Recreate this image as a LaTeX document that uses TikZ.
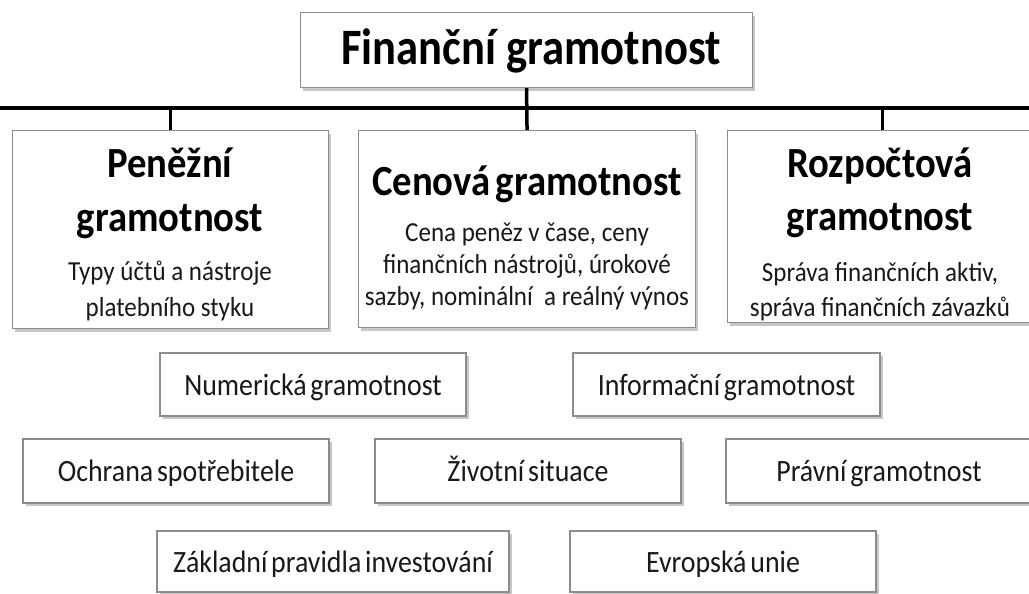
\documentclass[tikz,border=0pt]{standalone}
\usepackage{fontspec}
\setmainfont{Carlito}
\newfontfamily\titlefam{Carlito}[FakeStretch=0.875]
\newfontfamily\headfam{Carlito}[FakeStretch=0.9]
\newfontfamily\bodyfam{Carlito}[FakeStretch=0.91]
\newfontfamily\smallfam{Carlito}[FakeStretch=0.9, WordSpace=0.6]
\usetikzlibrary{shadows}
\begin{document}
\begin{tikzpicture}[x=1pt,y=-1pt,
  box/.style={draw=black!45, line width=1.1pt, fill=white, inner sep=0pt,
    drop shadow={shadow xshift=2.5pt, shadow yshift=-3pt, fill=black!40, opacity=0.55}},
  bigbox/.style={box, anchor=north west},
  conn/.style={line width=3.5pt, black},
  titletext/.style={anchor=base, inner sep=0pt, text=black, font=\titlefam\bfseries\fontsize{51}{60}\selectfont},
  head/.style={anchor=base, inner sep=0pt, text=black, font=\headfam\bfseries\fontsize{43}{50}\selectfont},
  body/.style={anchor=base, inner sep=0pt, text=black!90, font=\bodyfam\fontsize{27.5}{32}\selectfont},
  smallbox/.style={box, anchor=center, text=black!90, text height=21pt, text depth=0pt,
    font=\smallfam\fontsize{31}{36}\selectfont}]
\useasboundingbox (0,0) rectangle (1029,594);
\fill[white] (0,0) rectangle (1029,594);

% main boxes
\node[bigbox, minimum width=452pt, minimum height=75pt] (T) at (300,12) {};
\node[bigbox, minimum width=316pt, minimum height=198pt] (L) at (12,130) {};
\node[bigbox, minimum width=337pt, minimum height=197pt] (M) at (358,130) {};
\node[bigbox, minimum width=310pt, minimum height=192pt] (R) at (727,130) {};

% connectors
\coordinate (hl) at (0,108);
\coordinate (hr) at (1029,108);
\draw[conn] (hl) -- (hr);
\draw[conn] (T.south) -- (M.north);
\draw[conn] (L.north |- hl) -- (L.north);
\draw[conn] (R.north |- hl) -- (R.north);

% texts
\node[titletext] (Tt) at (531,65) {Finanční gramotnost};

\node[head] (L1) at (170,177) {Peněžní};
\node[head] (L2) at (170,231) {gramotnost};
\node[body] (L3) at (170,280) {Typy účtů a nástroje};
\node[body] (L4) at (170,316) {platebního styku};

\node[head] (M1) at (527,195) {Cenová gramotnost};
\node[body] (M2) at (527,241) {Cena peněz v čase, ceny};
\node[body] (M3) at (527,273) {finančních nástrojů, úrokové};
\node[body] (M4) at (527,305) {sazby, nominální~ a reálný výnos};

\node[head] (R1) at (880,177) {Rozpočtová};
\node[head] (R2) at (880,230) {gramotnost};
\node[body] (R3) at (880,281) {Správa finančních aktiv,};
\node[body] (R4) at (880,316) {správa finančních závazků};

% small boxes
\node[smallbox, minimum width=306pt, minimum height=63pt] (N) at (313,384.5) {Numerická gramotnost};
\node[smallbox, minimum width=307pt, minimum height=63pt] (I) at (726.5,384.5) {Informační gramotnost};
\node[smallbox, minimum width=306pt, minimum height=64pt] (O) at (176,471) {Ochrana spotřebitele};
\node[smallbox, minimum width=306pt, minimum height=64pt] (Z) at (528,471) {Životní situace};
\node[smallbox, minimum width=306pt, minimum height=64pt] (P) at (879,471) {Právní gramotnost};
\node[smallbox, minimum width=352pt, minimum height=61pt] (B) at (333,561.5) {Základní pravidla investování};
\node[smallbox, minimum width=306pt, minimum height=61pt] (E) at (723,561.5) {Evropská unie};
\end{tikzpicture}
\end{document}
